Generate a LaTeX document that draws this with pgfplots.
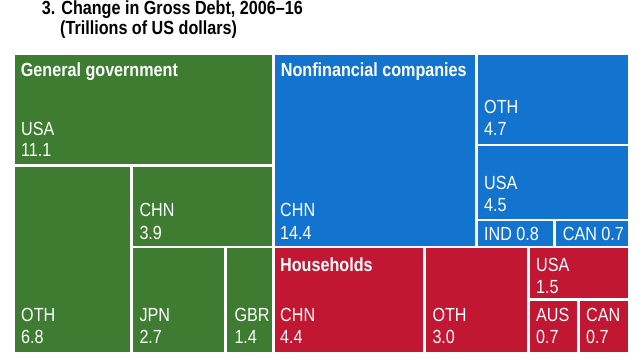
\documentclass[border=0pt]{standalone}
\usepackage{fontspec}
\setmainfont{Liberation Sans}[FakeStretch=0.85]
\usepackage{pgfplots}
\pgfplotsset{compat=1.18}
\definecolor{gg}{HTML}{3D7C31}
\definecolor{nfc}{HTML}{1374CF}
\definecolor{hh}{HTML}{C11733}
\newcommand\cell[5]{\addplot[fill=#1,draw=none] coordinates {(#2,#3) (#4,#3) (#4,#5) (#2,#5)} --cycle;}
\begin{document}
\begin{tikzpicture}[
  lab/.style={anchor=base west, inner sep=0pt, text=white, font=\fontsize{19bp}{22bp}\selectfont},
  hdr/.style={anchor=base west, inner sep=0pt, text=white, font=\fontsize{19bp}{22bp}\selectfont\bfseries},
  ttl/.style={anchor=base west, inner sep=0pt, text=black, font=\fontsize{19bp}{22bp}\selectfont\bfseries}]
\begin{axis}[width=640bp, height=360bp, scale only axis, xmin=0, xmax=640, ymin=0, ymax=360,
  y dir=reverse, axis lines=none, clip=false]
\addplot[draw=none] coordinates {(0,0) (640,360)};
% General government
\cell{gg}{15}{54.7}{272}{164}
\cell{gg}{15}{166.7}{130.3}{352}
\cell{gg}{133.3}{166.7}{272}{245.7}
\cell{gg}{133.3}{248.3}{224.3}{352}
\cell{gg}{227.3}{248.3}{272}{352}
% Nonfinancial companies
\cell{nfc}{275}{54.7}{475}{245.7}
\cell{nfc}{477.7}{54.7}{628}{143.7}
\cell{nfc}{477.7}{146.3}{628}{218.7}
\cell{nfc}{477.7}{221.3}{553.3}{245.7}
\cell{nfc}{556}{221.3}{628}{245.7}
% Households
\cell{hh}{275}{248.3}{423.3}{352}
\cell{hh}{426}{248.3}{527.3}{352}
\cell{hh}{530}{248.3}{628}{298}
\cell{hh}{530}{300.7}{577.3}{352}
\cell{hh}{580}{300.7}{628}{352}
% Title
\node[ttl] at (axis cs:41.7,14.5) {3. Change in Gross Debt, 2006--16};
\node[ttl] at (axis cs:60,34) {(Trillions of US dollars)};
% Headers
\node[hdr] at (axis cs:20.7,76.7) {General government};
\node[hdr] at (axis cs:280.7,76.7) {Nonfinancial companies};
\node[hdr] at (axis cs:280,271) {Households};
% Labels
\node[lab] at (axis cs:21,135) {USA};   \node[lab] at (axis cs:21,156.7) {11.1};
\node[lab] at (axis cs:21,321.7) {OTH}; \node[lab] at (axis cs:21,343.3) {6.8};
\node[lab] at (axis cs:139.3,216.7) {CHN}; \node[lab] at (axis cs:139.3,239) {3.9};
\node[lab] at (axis cs:139.3,321.7) {JPN}; \node[lab] at (axis cs:139.3,343.3) {2.7};
\node[lab] at (axis cs:234.3,321.7) {GBR}; \node[lab] at (axis cs:234.3,343.3) {1.4};
\node[lab] at (axis cs:280,216.7) {CHN}; \node[lab] at (axis cs:280,239) {14.4};
\node[lab] at (axis cs:484,113.3) {OTH}; \node[lab] at (axis cs:484,135) {4.7};
\node[lab] at (axis cs:484,189.3) {USA}; \node[lab] at (axis cs:484,211.7) {4.5};
\node[lab] at (axis cs:484,240) {IND 0.8};
\node[lab] at (axis cs:562.7,240) {CAN 0.7};
\node[lab] at (axis cs:280,321.7) {CHN}; \node[lab] at (axis cs:280,343.3) {4.4};
\node[lab] at (axis cs:432.3,321.7) {OTH}; \node[lab] at (axis cs:432.3,343.3) {3.0};
\node[lab] at (axis cs:536,271.7) {USA}; \node[lab] at (axis cs:536,293.3) {1.5};
\node[lab] at (axis cs:536,321.7) {AUS}; \node[lab] at (axis cs:536,343.3) {0.7};
\node[lab] at (axis cs:586,321.7) {CAN}; \node[lab] at (axis cs:586,343.3) {0.7};
\coordinate (tl) at (axis cs:0,0);
\coordinate (br) at (axis cs:640,360);
\end{axis}
\pgfresetboundingbox
\useasboundingbox (tl) rectangle (br);
\end{tikzpicture}
\end{document}
